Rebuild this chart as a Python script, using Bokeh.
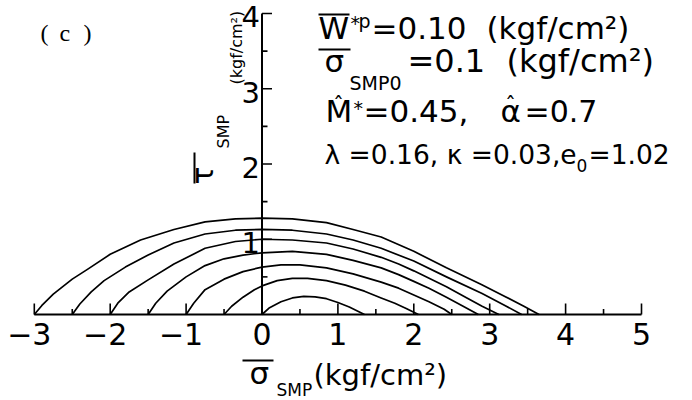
import math
from bokeh.plotting import figure
from bokeh.models import Range1d, Label
from bokeh.embed import file_html
from bokeh.resources import INLINE

# ---------------- data ----------------
c1_x = [0.0, 0.1, 0.25, 0.4, 0.55, 0.7, 0.85, 1.0, 1.15, 1.25, 1.35]
c1_y = [0.0, 0.09, 0.17, 0.22, 0.24, 0.235, 0.21, 0.16, 0.10, 0.05, 0.0]

c2_x = [-0.5, -0.4, -0.25, -0.1, 0.0, 0.2, 0.4, 0.6, 0.85, 1.1, 1.35, 1.57, 1.75, 1.9, 2.06]
c2_y = [0.0, 0.11, 0.23, 0.33, 0.38, 0.45, 0.48, 0.48, 0.45, 0.39, 0.31, 0.22, 0.15, 0.08, 0.0]

c3_x = [-1.0, -0.9, -0.75, -0.5, -0.25, 0.0, 0.25, 0.5, 0.85, 1.2, 1.57, 1.8, 2.0, 2.2, 2.4, 2.5]
c3_y = [0.0, 0.15, 0.33, 0.47, 0.57, 0.63, 0.66, 0.66, 0.62, 0.54, 0.43, 0.35, 0.26, 0.17, 0.07, 0.0]

c4_x = [-1.5, -1.4, -1.25, -1.0, -0.75, -0.5, -0.25, 0.0, 0.4, 0.85, 1.2, 1.57, 1.8, 2.0, 2.2, 2.43, 2.65, 2.85]
c4_y = [0.0, 0.15, 0.31, 0.50, 0.65, 0.74, 0.79, 0.82, 0.84, 0.80, 0.72, 0.62, 0.53, 0.44, 0.35, 0.23, 0.11, 0.0]

c5_x = [-2.0, -1.9, -1.75, -1.5, -1.16, -0.75, -0.35, 0.0, 0.4, 0.85, 1.2, 1.57, 1.8, 2.0, 2.43, 2.7, 2.9, 3.12]
c5_y = [0.0, 0.15, 0.30, 0.46, 0.67, 0.88, 0.97, 1.0, 0.99, 0.95, 0.87, 0.76, 0.67, 0.58, 0.37, 0.22, 0.11, 0.0]

c6_x = [-2.5, -2.4, -2.25, -2.08, -1.8, -1.5, -1.16, -0.75, -0.35, 0.0, 0.4, 0.85, 1.2, 1.57, 2.0, 2.43, 2.9, 3.2, 3.42]
c6_y = [0.0, 0.14, 0.30, 0.45, 0.63, 0.79, 0.95, 1.07, 1.12, 1.13, 1.12, 1.07, 0.99, 0.88, 0.71, 0.50, 0.28, 0.12, 0.0]

c7_x = [-3.0, -2.9, -2.75, -2.5, -2.3, -2.0, -1.6, -1.16, -0.75, -0.35, 0.0, 0.4, 0.85, 1.2, 1.57, 2.0, 2.43, 2.89, 3.2, 3.45, 3.65]
c7_y = [0.0, 0.12, 0.27, 0.47, 0.60, 0.80, 0.99, 1.13, 1.23, 1.27, 1.28, 1.27, 1.22, 1.13, 1.03, 0.84, 0.62, 0.40, 0.24, 0.11, 0.0]

curves_x = [c1_x, c2_x, c3_x, c4_x, c5_x, c6_x, c7_x]
curves_y = [c1_y, c2_y, c3_y, c4_y, c5_y, c6_y, c7_y]

x_major = [-3, -2, -1, 0, 1, 2, 3, 4, 5]
x_minor = [-2.5, -1.5, -0.5, 0.5, 1.5, 2.5, 3.5, 4.5]
x_tick_labels = ["\u22123", "\u22122", "\u22121", "0", "1", "2", "3", "4", "5"]
y_major = [1, 2, 3, 4]
y_minor = [0.5, 1.5, 2.5, 3.5]
y_tick_labels = ["1", "2", "3", "4"]

# ---------------- layout helpers (pixel -> data) ----------------
W, H = 692, 400
SX, X0PX = 75.9, 261.5
SY, Y0PX = 75.25, 314.0
K = 0.40   # baseline correction (fraction of font size)


def dx(px):
    return (px - X0PX) / SX


def dy(py):
    return (Y0PX - py) / SY


FONT = "DejaVu Sans"

p = figure(width=W, height=H, output_backend="svg", toolbar_location=None,
           x_range=Range1d(dx(0), dx(W)), y_range=Range1d(dy(H), dy(0)),
           x_axis_location=None, y_axis_location=None, min_border=0)
p.grid.visible = False
p.outline_line_color = None
p.background_fill_color = "white"
p.border_fill_color = "white"

# curves
for xs, ys in zip(curves_x, curves_y):
    p.line(xs, ys, line_color="black", line_width=1.7, line_join="round")

# x axis
p.line([x_major[0], x_major[-1]], [0, 0], line_color="black", line_width=2)
p.segment(x0=x_major, y0=[0] * len(x_major), x1=x_major,
          y1=[11 / SY] * len(x_major), line_color="black", line_width=1.6)
p.segment(x0=x_minor, y0=[0] * len(x_minor), x1=x_minor,
          y1=[5.5 / SY] * len(x_minor), line_color="black", line_width=1.6)
# y axis
p.line([0, 0], [0, y_major[-1]], line_color="black", line_width=2)
p.segment(x0=[0] * len(y_major), y0=y_major, x1=[10 / SX] * len(y_major),
          y1=y_major, line_color="black", line_width=1.6)
p.segment(x0=[0] * len(y_minor), y0=y_minor, x1=[5.5 / SX] * len(y_minor),
          y1=y_minor, line_color="black", line_width=1.6)


def lab(xpx, ypx, text, size, font=FONT, align="left"):
    """xpx: left/centre/right pixel; ypx: wanted baseline pixel."""
    p.add_layout(Label(x=dx(xpx), y=dy(ypx - K * size), text=text, text_font=font,
                       text_font_size=f"{size}px", text_align=align,
                       text_baseline="alphabetic", text_color="black"))


def vlab(bxpx, ypx, text, size, font=FONT):
    """rotated text reading upwards; bxpx: baseline pixel column, ypx: start."""
    p.add_layout(Label(x=dx(bxpx - K * size), y=dy(ypx), text=text, text_font=font,
                       text_font_size=f"{size}px", text_align="left",
                       text_baseline="alphabetic", angle=math.pi / 2,
                       text_color="black"))


def hbar(x0, x1, ypx):
    p.line([dx(x0), dx(x1)], [dy(ypx), dy(ypx)], line_color="black", line_width=2)


# tick labels
for v, t in zip(x_major, x_tick_labels):
    off = -5 if t.startswith("\u2212") else 0
    lab(X0PX + v * SX + off, 345, t, 30, align="center")
for v, t in zip(y_major, y_tick_labels):
    lab(X0PX - 2, Y0PX - v * SY + 15, t, 29, align="right")

# x axis title:  overline sigma, SMP, (kgf/cm2)
hbar(242, 273, 360)
lab(249, 385, "\u03c3", 31)
lab(276, 396, "SMP", 17)
lab(313, 386, "(kgf/cm\u00b2)", 29)

# y axis title (rotated)
p.line([dx(194), dx(194)], [dy(152), dy(183)], line_color="black", line_width=2)
vlab(214, 184, "\u03c4", 30)
vlab(229, 148, "SMP", 16)
vlab(242, 84, "(kgf/cm\u00b2)", 16)

# panel label
lab(40, 42, "(", 24, font="Liberation Serif")
lab(59, 42, "c", 24, font="Liberation Serif")
lab(83, 42, ")", 24, font="Liberation Serif")

# annotation block
# line 1
hbar(318, 349, 14)
lab(318, 40, "W", 31)
lab(350, 30, "*", 19)
lab(358, 28, "p", 19)
lab(371, 40, "=0.10", 31)
lab(486, 40, "(kgf/cm\u00b2)", 31)
# line 2
hbar(318, 350, 49)
lab(324, 73, "\u03c3", 31)
lab(349, 90, "SMP0", 19)
lab(407, 73, "=0.1", 32)
lab(506, 73, "(kgf/cm\u00b2)", 32)
# line 3
lab(325, 123, "M", 31)
lab(338, 113, "\u02c6", 22, align="center")
lab(353, 115, "*", 19)
lab(363, 123, "=0.45,", 31)
lab(500, 123, "\u03b1", 31)
lab(510, 113, "\u02c6", 22, align="center")
lab(524, 123, "=0.7", 30)
# line 4
lab(324, 165, "\u03bb =0.16, \u03ba =0.03,e", 26.5)
lab(576, 172, "0", 17)
lab(588, 165, "=1.02", 26.5)

open("out.html", "w").write(file_html(p, INLINE))
